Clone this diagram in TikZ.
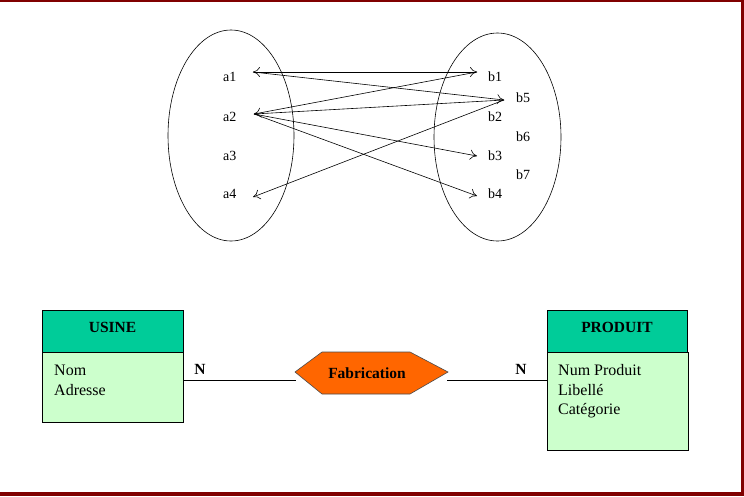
\documentclass[tikz,border=0pt]{standalone}
\usepackage{fontspec}
\setmainfont{Liberation Serif}
\usetikzlibrary{arrows.meta}
\begin{document}
\begin{tikzpicture}[x=1pt,y=-1pt,
  lbl/.style={font=\fontsize{14}{16}\selectfont, inner sep=0pt, anchor=base west},
  attr/.style={font=\fontsize{16}{18}\selectfont, inner sep=0pt, anchor=base west},
  title/.style={font=\bfseries\fontsize{15.5}{17}\selectfont, inner sep=0pt, anchor=base},
  rel/.style={line width=0.6pt},
  arr/.style={line width=0.6pt, -{To[length=7pt,width=10pt]}},
  arrb/.style={line width=0.6pt, {To[length=7pt,width=10pt]}-{To[length=7pt,width=10pt]}},
  head/.style={draw=black, line width=0.6pt, fill={rgb,255:red,0;green,204;blue,153}},
  body/.style={draw=black, line width=0.6pt, fill={rgb,255:red,204;green,255;blue,204}}]
\definecolor{frame}{RGB}{128,0,0}
\useasboundingbox (0,0) rectangle (744,496);
\fill[white] (0,0) rectangle (744,496);
% frame
\fill[frame] (0,0) rectangle (744,2);
\fill[frame] (741,0) rectangle (744,496);
\fill[frame] (0,492) rectangle (744,496);
% ellipses
\draw[line width=0.6pt] (231,135.5) ellipse [x radius=63, y radius=105.5];
\draw[line width=0.6pt] (497.5,137) ellipse [x radius=63.5, y radius=104];
% labels
\node[lbl] (la1) at (223,81.5) {a1};
\node[lbl] (la2) at (223,121) {a2};
\node[lbl] (la3) at (223,160) {a3};
\node[lbl] (la4) at (223,198.5) {a4};
\node[lbl] (lb1) at (488,81.5) {b1};
\node[lbl] (lb5) at (516,102) {b5};
\node[lbl] (lb2) at (488,121) {b2};
\node[lbl] (lb6) at (516,141) {b6};
\node[lbl] (lb3) at (488,160) {b3};
\node[lbl] (lb7) at (516,179) {b7};
\node[lbl] (lb4) at (488,198.5) {b4};
% arrow end points
\coordinate (pa1) at (253,72);
\coordinate (pa2) at (254,114);
\coordinate (pa4) at (253,197);
\coordinate (pb1) at (477,72);
\coordinate (pb5) at (504,100);
\coordinate (pb3) at (477,156);
\coordinate (pb4) at (477,196);
\draw[arrb] (pa1) -- (pb1);
\draw[arr] (pa1) -- (pb5);
\draw[arr] (pb1) -- (pa2);
\draw[rel] (pa2) -- (pb5);
\draw[arr] (pa2) -- (pb3);
\draw[arr] (pa2) -- (pb4);
\draw[arr] (pb5) -- (pa4);
% USINE
\node[head, minimum width=141pt, minimum height=42pt, anchor=north west] (uh) at (42,310) {};
\node[title] (ut) at (112.5,332) {USINE};
\node[body, minimum width=141pt, minimum height=70pt, anchor=north west] (ub) at (42,352) {};
\node[attr] (ua1) at (54,375) {Nom};
\node[attr] (ua2) at (54,395) {Adresse};
% PRODUIT
\node[head, minimum width=140pt, minimum height=42pt, anchor=north west] (ph) at (547,310) {};
\node[title] (pt) at (617,332) {PRODUIT};
\node[body, minimum width=141pt, minimum height=98pt, anchor=north west] (pb) at (547,352) {};
\node[attr] (pa1t) at (558,375) {Num Produit};
\node[attr] (pa2t) at (558,395) {Libellé};
\node[attr] (pa3t) at (558,414) {Catégorie};
% relation
\coordinate (hl) at (295,372);
\coordinate (hr) at (448,372);
\filldraw[fill={rgb,255:red,255;green,102;blue,0}, draw=black!70, line width=0.6pt]
  (hl) -- (322,352) -- (410,352) -- (hr) -- (410,394) -- (322,394) -- cycle;
\node[title] (fab) at (367,378) {Fabrication};
\coordinate (ul) at (183,380);
\coordinate (ulr) at (296,380);
\coordinate (pl) at (547,380);
\coordinate (pll) at (447,380);
\draw[rel] (ul) -- (ulr);
\draw[rel] (pll) -- (pl);
\node[title] (n1) at (200,374) {N};
\node[title] (n2) at (521,374) {N};
\end{tikzpicture}
\end{document}
